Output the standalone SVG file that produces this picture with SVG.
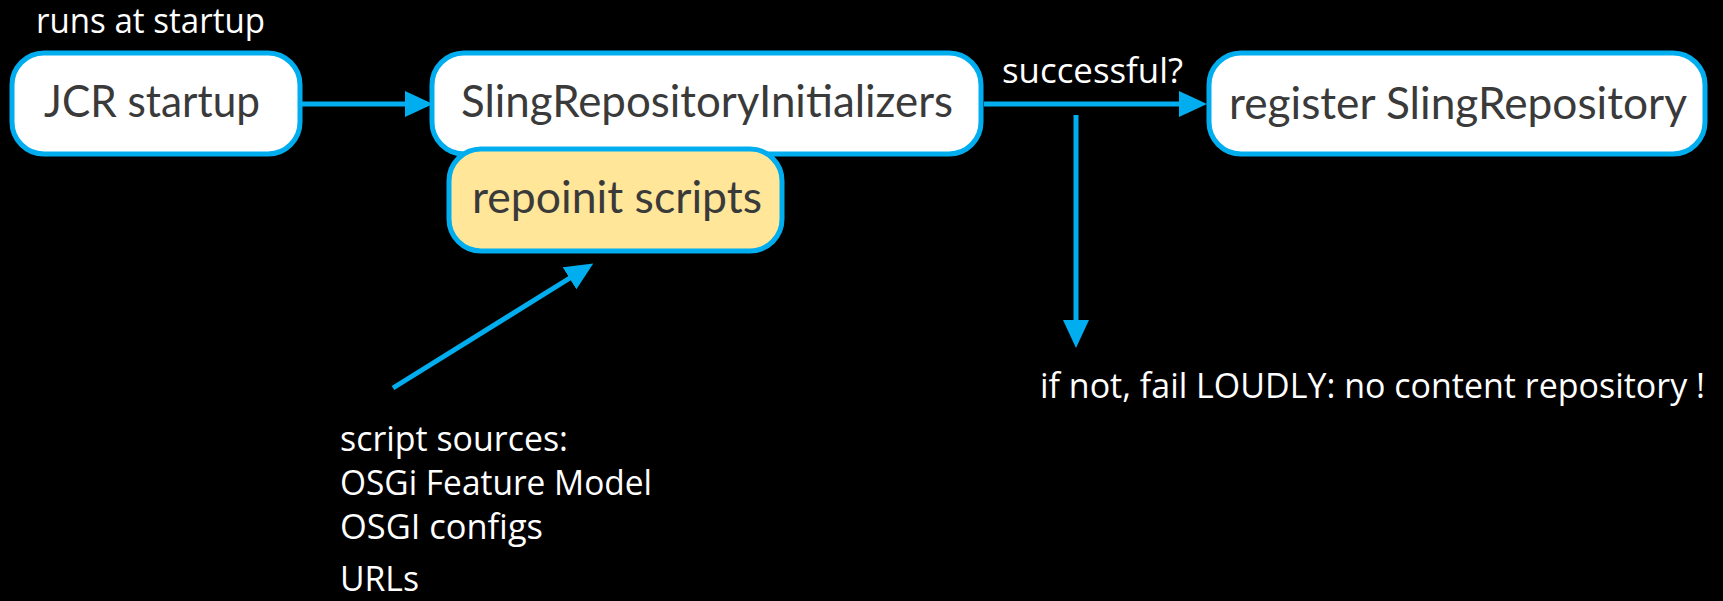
<svg xmlns="http://www.w3.org/2000/svg" width="1723" height="601" viewBox="0 0 1723 601">
<defs>
<marker id="ah" markerUnits="userSpaceOnUse" markerWidth="28" markerHeight="26" refX="10" refY="13" orient="auto">
<path d="M0,0 L28,13 L0,26 z" fill="#00AEEF"/>
</marker>
<style>
.box{fill:#ffffff;stroke:#00AEEF;stroke-width:5}
.ybox{fill:#FFE699;stroke:#00AEEF;stroke-width:5}
.bt{font-family:Lato,"Open Sans",sans-serif;font-size:44px;fill:#3a3a3a}
.wt{font-family:"Open Sans","Noto Sans",sans-serif;font-size:34px;fill:#ffffff}
.conn{stroke:#00AEEF;stroke-width:5;fill:none;marker-end:url(#ah)}
</style>
</defs>
<rect width="1723" height="601" fill="#000000"/>
<g id="label-runs">
<text class="wt" x="36" y="33" textLength="229" lengthAdjust="spacingAndGlyphs">runs at startup</text>
</g>
<g id="jcr-startup">
<rect class="box" x="12" y="53" width="288" height="101" rx="32"/>
<text class="bt" x="44" y="117" textLength="216" lengthAdjust="spacingAndGlyphs">JCR startup</text>
</g>
<g id="sling-repo-initializers">
<rect class="box" x="432" y="53" width="549" height="101" rx="32"/>
<text class="bt" x="461" y="117" textLength="492" lengthAdjust="spacingAndGlyphs">SlingRepositoryInitializers</text>
</g>
<g id="repoinit-scripts">
<rect class="ybox" x="449" y="149" width="333" height="102" rx="32"/>
<text class="bt" x="472" y="213" textLength="290" lengthAdjust="spacingAndGlyphs">repoinit scripts</text>
</g>
<g id="register-sling-repo">
<rect class="box" x="1209" y="53" width="496" height="101" rx="32"/>
<text class="bt" x="1229" y="119" textLength="458" lengthAdjust="spacingAndGlyphs">register SlingRepository</text>
</g>
<g id="label-successful">
<text class="wt" x="1002" y="83" textLength="181" lengthAdjust="spacingAndGlyphs">successful?</text>
</g>
<g id="label-fail">
<text class="wt" x="1040" y="398" textLength="665" lengthAdjust="spacingAndGlyphs">if not, fail LOUDLY: no content repository !</text>
</g>
<g id="label-sources">
<text class="wt" x="340" y="451" textLength="228" lengthAdjust="spacingAndGlyphs">script sources:</text>
<text class="wt" x="340" y="495" textLength="312" lengthAdjust="spacingAndGlyphs">OSGi Feature Model</text>
<text class="wt" x="340" y="539" textLength="203" lengthAdjust="spacingAndGlyphs">OSGI configs</text>
<text class="wt" x="340" y="591" textLength="79" lengthAdjust="spacingAndGlyphs">URLs</text>
</g>
<g id="connectors">
<line class="conn" x1="302" y1="104" x2="415" y2="104"/>
<line class="conn" x1="984" y1="104" x2="1189" y2="104"/>
<line class="conn" x1="1076" y1="115" x2="1076" y2="330"/>
<line class="conn" x1="393" y1="388" x2="578" y2="273"/>
</g>
</svg>
